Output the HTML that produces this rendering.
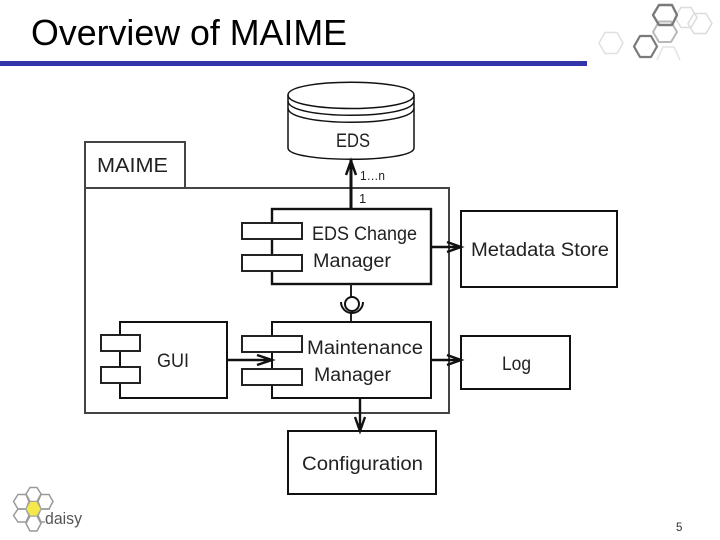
<!DOCTYPE html>
<html><head><meta charset="utf-8"><style>
html,body{margin:0;padding:0;background:#fff;width:720px;height:540px;overflow:hidden}
svg{display:block}
text{font-family:"Liberation Sans",sans-serif;fill:#222}
</style></head><body>
<svg width="720" height="540" viewBox="0 0 720 540" xmlns="http://www.w3.org/2000/svg">
<text x="31" y="45" style="font-size:36px;fill:#000" textLength="316" lengthAdjust="spacingAndGlyphs">Overview of MAIME</text>
<rect x="0" y="61" width="587" height="5" fill="#3333aa"/>
<!-- top right hexes -->
<g fill="none" stroke-linejoin="round">
<path d="M605 32.500h12l6 10.500-6 10.500h-12l-6-10.500z" stroke="#e0e0e0" stroke-width="1.500"/>
<path d="M681 7.500h10l6 10-6 10h-10l-6-10z" stroke="#dcdcdc" stroke-width="1.500"/>
<path d="M694 13.500h12l6 10-6 10h-12l-6-10z" stroke="#dcdcdc" stroke-width="1.500"/>
<path d="M659 21.500h12l6 10.500-6 10h-12l-6-10z" stroke="#b8b8b8" stroke-width="2"/>
<path d="M659 5h13l5 10-5 10h-13l-6-10z" stroke="#7a7a7a" stroke-width="2.400"/>
<path d="M640 36h11l6 10.500-6 10.500h-11l-6-10.500z" stroke="#7a7a7a" stroke-width="2.200"/>
<path d="M657 60l6-13h11l6 13" stroke="#e4e4e4" stroke-width="1.500"/>
</g>
<!-- daisy logo -->
<g fill="none" stroke="#9a9a9a" stroke-width="1.500">
<path d="M30 487.500h7l4 6.500-4 7.500h-7l-4-7.500z"/>
<path d="M18 494.500h8l3 7-3 7.500h-8l-4.500-7.500z"/>
<path d="M41 494.500h8l4 7-4 7.500h-8l-3-7.500z"/>
<path d="M18 509h8l3 6.500-3 6.500h-8l-4.500-6.500z"/>
<path d="M50 509H41l-3 6.500 3 6.500h4"/>
<path d="M30 516h7l4 7.500-4 7.500h-7l-4-7.500z"/>
</g>
<path d="M30 501.500h7l4 7.500-4 7h-7l-4-7z" fill="#f5e94a" stroke="#a8a8a8" stroke-width="1"/>
<text x="45" y="524" style="font-size:17px;fill:#555" textLength="37" lengthAdjust="spacingAndGlyphs">daisy</text>
<!-- MAIME package -->
<g fill="none" stroke="#444" stroke-width="2">
<rect x="85" y="142" width="100" height="46" fill="#fff"/>
<rect x="85" y="188" width="364" height="225"/>
</g>
<text x="97" y="172" style="font-size:20px" textLength="71" lengthAdjust="spacingAndGlyphs">MAIME</text>
<!-- EDS cylinder -->
<g fill="#fff" stroke="#111" stroke-width="1.500">
<path d="M288 95C288 78 414 78 414 95V148C414 163 288 163 288 148Z"/>
<path d="M288 95C288 113 414 113 414 95" fill="none"/>
<path d="M288 101C288 120 414 120 414 101" fill="none"/>
<path d="M288 108C288 127 414 127 414 108" fill="none"/>
</g>
<text x="336" y="147" style="font-size:19px" textLength="34" lengthAdjust="spacingAndGlyphs">EDS</text>
<!-- arrow EDS -->
<path d="M351 209V160" stroke="#111" stroke-width="3" fill="none"/>
<path d="M346 175L351 161L356 175" stroke="#111" stroke-width="2.500" fill="none"/>
<text x="360" y="180" style="font-size:13px" textLength="25" lengthAdjust="spacingAndGlyphs">1…n</text>
<text x="359" y="203" style="font-size:13px">1</text>
<!-- EDS Change Manager -->
<rect x="272" y="209" width="159" height="75" fill="#fff" stroke="#111" stroke-width="2.400"/>
<rect x="242" y="223" width="60" height="16" fill="#fff" stroke="#222" stroke-width="2"/>
<rect x="242" y="255" width="60" height="16" fill="#fff" stroke="#222" stroke-width="2"/>
<text x="312" y="240" style="font-size:19px" textLength="105" lengthAdjust="spacingAndGlyphs">EDS Change</text>
<text x="313" y="267" style="font-size:19px" textLength="78" lengthAdjust="spacingAndGlyphs">Manager</text>
<!-- Lollipop -->
<path d="M351 284V297M351 313V322" stroke="#222" stroke-width="2" fill="none"/>
<circle cx="352" cy="304" r="7" fill="#fff" stroke="#111" stroke-width="2"/>
<path d="M341 302A11 11 0 0 0 363 302" fill="none" stroke="#111" stroke-width="2"/>
<!-- Maintenance Manager -->
<rect x="272" y="322" width="159" height="76" fill="#fff" stroke="#111" stroke-width="2"/>
<rect x="242" y="336" width="60" height="16" fill="#fff" stroke="#222" stroke-width="2"/>
<rect x="242" y="369" width="60" height="16" fill="#fff" stroke="#222" stroke-width="2"/>
<text x="307" y="354" style="font-size:19px" textLength="116" lengthAdjust="spacingAndGlyphs">Maintenance</text>
<text x="314" y="381" style="font-size:19px" textLength="77" lengthAdjust="spacingAndGlyphs">Manager</text>
<!-- GUI -->
<rect x="120" y="322" width="107" height="76" fill="#fff" stroke="#111" stroke-width="2"/>
<rect x="101" y="335" width="39" height="16" fill="#fff" stroke="#222" stroke-width="2"/>
<rect x="101" y="367" width="39" height="16" fill="#fff" stroke="#222" stroke-width="2"/>
<text x="157" y="367" style="font-size:19px" textLength="32" lengthAdjust="spacingAndGlyphs">GUI</text>
<!-- Metadata store, Log, Config -->
<rect x="461" y="211" width="156" height="76" fill="#fff" stroke="#111" stroke-width="2"/>
<text x="471" y="256" style="font-size:19px" textLength="138" lengthAdjust="spacingAndGlyphs">Metadata Store</text>
<rect x="461" y="336" width="109" height="53" fill="#fff" stroke="#111" stroke-width="2"/>
<text x="502" y="370" style="font-size:19px" textLength="29" lengthAdjust="spacingAndGlyphs">Log</text>
<rect x="288" y="431" width="148" height="63" fill="#fff" stroke="#111" stroke-width="2"/>
<text x="302" y="470" style="font-size:19px" textLength="121" lengthAdjust="spacingAndGlyphs">Configuration</text>
<!-- arrows -->
<g stroke="#111" stroke-width="2.400" fill="none">
<path d="M431 247H461M447 242L461 247L447 252"/>
<path d="M431 360H461M447 355L461 360L447 365"/>
<path d="M227 360H272M257 355L272 360L257 365"/>
<path d="M360 398V431M355 417L360 431L365 417"/>
</g>
<text x="676" y="531" style="font-size:11.500px;fill:#333">5</text>
</svg>
</body></html>
